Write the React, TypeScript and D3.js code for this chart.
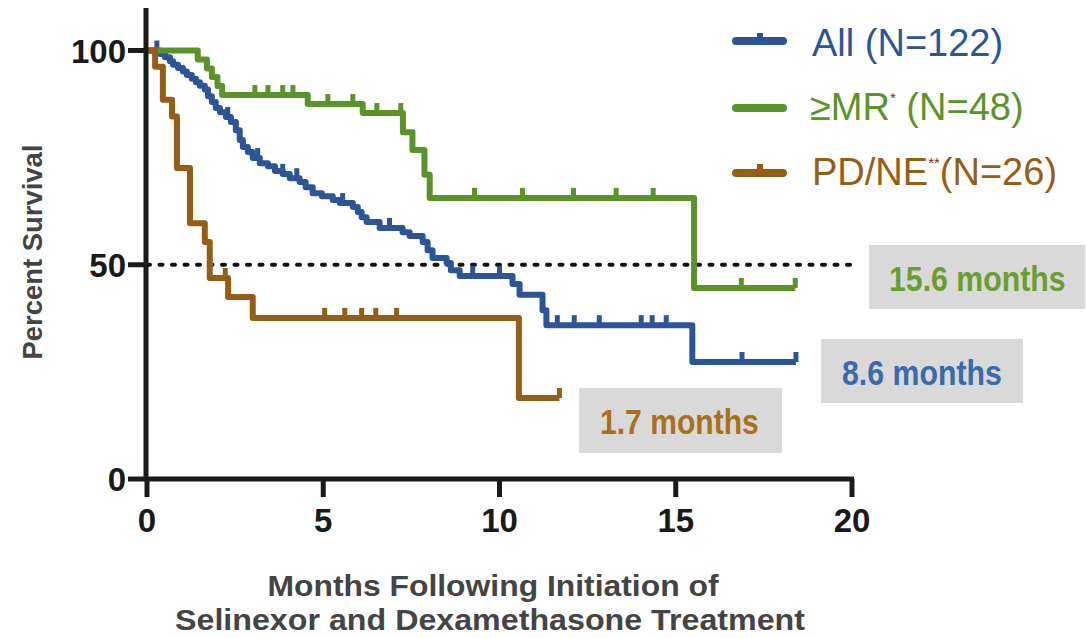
import React from "react";
import * as d3 from "d3";

// ---------- data ----------
const xTicks = [0, 5, 10, 15, 20];
const yTicks = [0, 50, 100];

// All (N=122): step times (months) and survival (%) after each step
const allTimes = [0, 0.37, 0.51, 0.65, 0.74, 0.88, 1.02, 1.13, 1.27, 1.39, 1.5, 1.64, 1.73, 1.84, 1.95, 2.07, 2.24, 2.38, 2.52, 2.63, 2.72, 2.86, 3.0, 3.2, 3.43, 3.63, 3.85, 4.05, 4.33, 4.5, 4.7, 4.96, 5.27, 5.47, 5.84, 5.98, 6.09, 6.23, 6.6, 7.25, 7.45, 7.82, 7.96, 8.1, 8.5, 8.62, 8.87, 10.37, 10.57, 11.22, 11.33, 15.47];
const allSurv = [100, 99.2, 98.4, 97.5, 96.7, 95.9, 95.1, 94.3, 93.4, 92.6, 91.8, 90.9, 89.3, 88.0, 86.6, 85.6, 84.5, 83.3, 81.4, 79.1, 77.5, 76.3, 74.9, 73.7, 73.0, 71.9, 71.2, 70.2, 69.3, 68.1, 66.7, 66.0, 65.1, 64.4, 63.5, 62.3, 61.1, 60.0, 58.6, 57.6, 56.7, 55.3, 53.4, 51.6, 50.4, 48.7, 47.4, 45.5, 43.0, 39.4, 35.9, 27.3];
const allCensor = [0.28, 2.29, 3.14, 3.85, 4.25, 5.55, 6.88, 9.24, 10.0, 11.64, 12.12, 12.83, 14.02, 14.33, 14.73, 16.88, 18.41];
const allEnd = 18.41;

// >=MR (N=48)
const mrTimes = [0, 1.44, 1.7, 1.84, 2.0, 2.13, 4.56, 6.12, 7.26, 7.53, 7.87, 8.02, 15.52];
const mrSurv = [100, 97.9, 95.8, 93.8, 91.7, 89.6, 87.5, 85.4, 80.9, 76.8, 71.0, 65.6, 44.6];
const mrCensor = [3.06, 3.43, 3.85, 4.14, 5.13, 5.84, 6.52, 7.2, 9.29, 10.65, 12.1, 13.31, 14.36, 16.86, 18.39];
const mrEnd = 18.39;

// PD/NE (N=26)
const pdTimes = [0, 0.23, 0.45, 0.71, 0.85, 1.22, 1.64, 1.78, 2.3, 3.0, 10.55];
const pdSurv = [100, 96.2, 88.5, 84.6, 72.6, 59.7, 55.3, 46.9, 42.5, 37.6, 18.9];
const pdCensor = [2.22, 5.04, 5.61, 6.09, 6.49, 7.08, 11.7];
const pdEnd = 11.7;

const legendLabels = ["All (N=122)", "\u2265MR", "PD/NE"];
const medianLabels = ["15.6 months", "8.6 months", "1.7 months"];

// ---------- styles ----------
const BLUE = "#2b5597";
const GREEN = "#5a9429";
const BROWN = "#955e15";

export default function App() {
  const x = d3.scaleLinear().domain([0, 20]).range([147, 852]);
  const y = d3.scaleLinear().domain([0, 100]).range([479, 50.5]);

  const line = d3
    .line<[number, number]>()
    .x((d) => x(d[0]))
    .y((d) => y(d[1]))
    .curve(d3.curveStepAfter);

  const series = [
    { times: allTimes, surv: allSurv, censor: allCensor, end: allEnd, color: BLUE },
    { times: mrTimes, surv: mrSurv, censor: mrCensor, end: mrEnd, color: GREEN },
    { times: pdTimes, surv: pdSurv, censor: pdCensor, end: pdEnd, color: BROWN },
  ];

  const valueAt = (times: number[], surv: number[], t: number) => {
    let v = surv[0];
    for (let i = 0; i < times.length; i++) if (times[i] <= t) v = surv[i];
    return v;
  };

  const font = "'Liberation Sans', Arial, Helvetica, sans-serif";

  return (
    <svg
      width={1086}
      height={638}
      style={{ position: "absolute", left: 0, top: 0, background: "#fff" }}
      fontFamily={font}
    >
      {/* 50% reference line */}
      <line
        x1={x(0)}
        x2={x(20)}
        y1={y(50)}
        y2={y(50)}
        stroke="#111"
        strokeWidth={4}
        strokeDasharray="3 9.5"
        strokeLinecap="round"
      />

      {/* curves */}
      {series.map((s, i) => {
        const pts: [number, number][] = s.times.map((t, j) => [t, s.surv[j]]);
        pts.push([s.end, s.surv[s.surv.length - 1]]);
        return (
          <g key={i}>
            <path
              d={line(pts) || ""}
              fill="none"
              stroke={s.color}
              strokeWidth={6}
              strokeLinejoin="round"
            />
            {s.censor.map((c, k) => {
              const v = valueAt(s.times, s.surv, c);
              return (
                <line
                  key={k}
                  x1={x(c)}
                  x2={x(c)}
                  y1={y(v)}
                  y2={y(v) - 10}
                  stroke={s.color}
                  strokeWidth={5}
                />
              );
            })}
          </g>
        );
      })}

      {/* axes */}
      <line x1={146} x2={146} y1={8} y2={481} stroke="#1a1a1a" strokeWidth={5} />
      <line x1={144} x2={854} y1={479} y2={479} stroke="#1a1a1a" strokeWidth={5} />
      {xTicks.map((t) => (
        <g key={"xt" + t}>
          <line x1={x(t)} x2={x(t)} y1={479} y2={497} stroke="#1a1a1a" strokeWidth={5} />
          <text
            x={x(t)}
            y={532}
            textAnchor="middle"
            fontSize={33}
            fontWeight="bold"
            fill="#1a1a1a"
          >
            {t}
          </text>
        </g>
      ))}
      {yTicks.map((t) => (
        <g key={"yt" + t}>
          <line x1={128} x2={146} y1={y(t)} y2={y(t)} stroke="#1a1a1a" strokeWidth={5} />
          <text
            x={126}
            y={y(t) + 12}
            textAnchor="end"
            fontSize={33}
            fontWeight="bold"
            fill="#1a1a1a"
          >
            {t}
          </text>
        </g>
      ))}

      {/* axis titles */}
      <text
        transform="translate(42,252) rotate(-90)"
        textAnchor="middle"
        fontSize={28}
        fontWeight="bold"
        fill="#444"
        textLength={215}
        lengthAdjust="spacingAndGlyphs"
      >
        Percent Survival
      </text>
      <text
        x={493}
        y={596}
        textAnchor="middle"
        fontSize={30}
        fontWeight="bold"
        fill="#444"
        textLength={451}
        lengthAdjust="spacingAndGlyphs"
      >
        Months Following Initiation of
      </text>
      <text
        x={490}
        y={630}
        textAnchor="middle"
        fontSize={30}
        fontWeight="bold"
        fill="#444"
        textLength={630}
        lengthAdjust="spacingAndGlyphs"
      >
        Selinexor and Dexamethasone Treatment
      </text>

      {/* legend */}
      <line x1={736} x2={783} y1={41} y2={41} stroke={BLUE} strokeWidth={8} strokeLinecap="round" />
      <line x1={760} x2={760} y1={41} y2={33} stroke={BLUE} strokeWidth={6} />
      <text x={812} y={56} fontSize={38} fill={BLUE}>
        {legendLabels[0]}
      </text>

      <line x1={736} x2={783} y1={108} y2={108} stroke={GREEN} strokeWidth={8} strokeLinecap="round" />
      <text x={810} y={120} fontSize={38} fill={GREEN}>
        {legendLabels[1]}
        <tspan fontSize={15} dy={-17} fill="#4a4a2a">*</tspan>
        <tspan dy={17}> (N=48)</tspan>
      </text>

      <line x1={736} x2={783} y1={173} y2={173} stroke={BROWN} strokeWidth={8} strokeLinecap="round" />
      <line x1={760} x2={760} y1={173} y2={164} stroke={BROWN} strokeWidth={6} />
      <text x={812} y={185} fontSize={38} fill={BROWN}>
        {legendLabels[2]}
        <tspan fontSize={15} dy={-17} fill="#8b2a1a">**</tspan>
        <tspan dy={17}>(N=26)</tspan>
      </text>

      {/* median annotations */}
      <rect x={869} y={245} width={216} height={64} fill="#d9d9d9" />
      <text
        transform="translate(889,291) scale(0.865,1)"
        fontSize={35}
        fontWeight="bold"
        fill="#6a9e2f"
      >
        {medianLabels[0]}
      </text>

      <rect x={821} y={339} width={202} height={64} fill="#d9d9d9" />
      <text
        transform="translate(842,385) scale(0.865,1)"
        fontSize={35}
        fontWeight="bold"
        fill="#3a6aaa"
      >
        {medianLabels[1]}
      </text>

      <rect x={579} y={388} width={203} height={65} fill="#d9d9d9" />
      <text
        transform="translate(600,434) scale(0.86,1)"
        fontSize={35}
        fontWeight="bold"
        fill="#a8711a"
      >
        {medianLabels[2]}
      </text>
    </svg>
  );
}
